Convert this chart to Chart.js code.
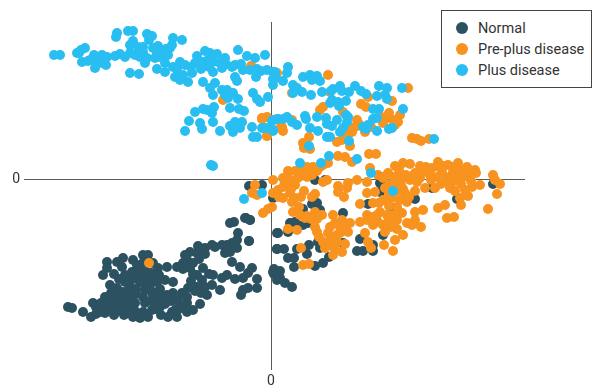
<!DOCTYPE html>
<html>
<head>
<meta charset="utf-8">
<title>Scatter</title>
<script src="https://cdn.jsdelivr.net/npm/chart.js@4"></script>
<style>
  html, body { margin: 0; padding: 0; background: #fff; }
  #wrap { position: relative; width: 592px; height: 388px; overflow: hidden; }
  #legend {
    position: absolute; left: 441px; top: 10px; width: 149px; height: 76px;
    border: 1px solid #444; background: #fff; box-sizing: content-box;
    font-family: Roboto, sans-serif; font-size: 14.5px; color: #333;
  }
  #legend div { position: absolute; left: 36px; line-height: 18px; white-space: nowrap; }
  #legend span { position: absolute; left: -22px; top: 2px; width: 12px; height: 12px; border-radius: 50%; }
</style>
</head>
<body>
<div id="wrap">
  <canvas id="scatterChart" width="592" height="388"></canvas>
  <div id="legend"></div>
</div>
<script>
const seriesNames = ['Normal', 'Pre-plus disease', 'Plus disease'];
const seriesColors = ['#2c5261', '#f7931e', '#29bef1'];

const normalPoints = [
  [-22,-7],[-9,-6],[-26,-39],[-21,-41],[-22,-62],[7,-54],[19,-44],[24,-43],[17,-53],[32,-46],[37,-44],[41,-25],[46,-24],[32,-30],[72,-34],[44,-1],[54,-1],
  [6,-70],[13,-70],[26,-70],[38,-66],[36,-75],[47,-63],[49,-69],[17,-79],[23,-79],[23,-88],[44,-87],[52,-84],[58,-78],[3,-90],[9,-92],[3,-95],[9,-99],[14,-104],[21,-108],
  [89,-60],[86,-72],[92,-72],[102,-66],[102,-72],[64,-59],[72,-64],[97,-25],[109,-13],[121,-29],[144,-20],[186,-20],[222,-5],[2,-19],[49,-31],[112,-56],[161,-9],[141,2],[109,-4],
  [-203,-128],[-199,-129],[-188,-133],[-180,-138],[-178,-124],[-171,-133],[-166,-118],[-161,-131],[-168,-96],[-164,-83],[-164,-89],[-161,-106],[-154,-83],[-148,-79],[-149,-88],
  [-156,-114],[-148,-119],[-147,-136],[-141,-108],[-138,-81],[-139,-93],[-128,-76],[-123,-76],[-131,-88],[-136,-124],[-138,-138],[-131,-139],[-126,-124],[-123,-138],[-124,-99],
  [-126,-111],[-118,-116],[-119,-131],[-113,-89],[-104,-88],[-114,-103],[-110,-136],[-111,-128],[-104,-116],[-106,-101],[-98,-103],[-99,-133],[-94,-138],[-93,-121],[-94,-88],
  [-88,-84],[-81,-73],[-86,-76],[-84,-81],[-81,-89],[-73,-67],[-59,-66],[-66,-69],[-74,-74],[-49,-66],[-39,-64],[-41,-44],[-37,-43],[-25,-39],[-21,-41],[-33,-54],[-34,-61],[-22,-62],
  [-46,-74],[-41,-73],[-34,-69],[-39,-83],[-31,-88],[-68,-89],[-74,-96],[-69,-101],[-74,-108],[-83,-109],[-89,-114],[-64,-116],[-58,-96],[-59,-106],[-51,-111],[-49,-99],[-44,-96],
  [-36,-100],[-28,-99],[-19,-89],[-23,-94],[-14,-100],[-14,-109],[-23,-109],[-28,-111],[-30,-116],[-71,-125],[-78,-131],[-84,-133],[-84,-124],[-163,-121],[-153,-128],[-141,-129],
  [6,-54],[6,-70],[2,-93],[6,-101],[-131,-103],[-121,-106],[-154,-109],[-98,-114],[-141,-118],[-126,-92],[-111,-110],[-166,-125],[-133,-96],[-146,-96],[-113,-122],[-152,-122],
  [-175,-128],[-170,-124],[-160,-122],[-158,-130],[-145,-125],[-150,-132],[-143,-112],[-135,-115],[-128,-118],[-120,-122],[-115,-130],[-106,-125],[-100,-122],[-90,-128],[-95,-130],
  [-157,-95],[-152,-100],[-146,-103],[-138,-100],[-130,-94],[-120,-94],[-118,-84],[-112,-96],[-128,-84],[-134,-86],[-118,-98],[-126,-105],[-112,-112],[-88,-90],[-78,-95],[-80,-102],
  [-66,-108],[-62,-95],[-78,-84],[-72,-80],[-66,-75],[-56,-68],[-44,-66],[-76,-112],[-70,-114],[-84,-118],[-100,-118],[-108,-118],[-120,-112],[-135,-110],[-148,-113],[-160,-114],
  [-153,-119],[-136,-132],[-128,-133],[-114,-124],[-103,-138],[-92,-130],[-175,-135],[-166,-134],[-157,-136],[-143,-133]
];

const prePlusPoints = [
  [-19,112],[6,106],[57,104],[21,86],[59,87],[137,91],[97,82],[121,78],[52,72],[49,69],[90,75],[95,72],[72,67],[-9,61],[-4,62],[21,59],[11,52],[12,48],[-4,43],[38,42],[32,36],[33,31],[39,30],
  [86,59],[84,52],[81,47],[76,44],[71,39],[66,37],[79,33],[94,47],[116,61],[122,59],[129,64],[127,57],[124,54],[109,63],[141,41],[146,40],[150,38],[158,40],[67,23],[74,22],[81,17],[98,25],[105,25],
  [57,16],[49,12],[42,12],[17,8],[12,1],[27,7],[32,6],[37,7],[2,-1],[19,-1],[27,1],[36,2],[41,4],[56,-1],[52,-3],[99,11],[124,13],[132,16],[139,15],[149,13],[161,11],[167,17],[177,14],[187,16],
  [196,12],[204,9],[191,9],[182,7],[171,7],[156,7],[144,6],[129,4],[117,6],[107,4],[112,1],[122,2],[132,1],[139,-1],[149,1],[159,4],[166,2],[176,1],[186,2],[192,2],[222,4],[224,-1],[229,-5],[226,-15],[199,7],
  [-16,-6],[-19,-14],[-14,-16],[2,-14],[7,-11],[12,-8],[17,1],[19,-14],[24,-6],[12,-19],[21,-23],[24,-19],[-8,-34],[-3,-30],[1,-28],[44,-15],[41,-18],[67,-7],[67,-13],[73,-18],[77,-4],[76,-9],[86,-1],
  [96,-3],[96,-14],[104,-13],[112,2],[114,-9],[89,-25],[102,-24],[112,-21],[121,-19],[129,-21],[136,-23],[144,-12],[146,-3],[154,-9],[164,-9],[174,-3],[179,-9],[189,-19],[194,-11],[201,-8],[209,-6],[205,6],
  [217,-30],[167,-29],[174,-26],[176,-39],[183,-38],[152,-31],[144,-33],[131,-34],[126,-41],[144,-41],[136,-44],[150,-48],[141,-46],[126,-50],[117,-43],[109,-33],[102,-38],[96,-41],[89,-43],[107,-43],
  [114,-53],[94,-54],[132,-56],[124,-61],[97,-63],[100,-69],[113,-66],[122,-72],[62,-36],[71,-41],[79,-44],[59,-48],[69,-48],[77,-53],[57,-54],[69,-54],[44,-33],[51,-36],[29,-36],[22,-33],[34,-39],
  [44,-48],[46,-53],[17,-50],[26,-51],[52,-63],[57,-63],[66,-63],[74,-65],[54,-69],[62,-76],[71,-73],[30,-69],[32,-86],[38,-85],[-122,-84],[-20,113],[-48,79],[-9,60],[-4,43],[9,51],
  [118,-14],[126,-12],[134,-14],[108,-24],[118,-27],[126,-28],[116,-36],[122,-36],[106,-36],[96,-36],[112,-46],[120,-48],[102,-46],[132,-10],[138,-18],[118,-6],[124,-4],[130,-6],[135,4],[128,9],
  [150,6],[155,12],[160,-1],[170,-5],[168,12],[172,13],[182,12],[183,-2],[190,-5],[195,4],[184,-12],[197,-17],[190,-26],[200,-2],[180,3],[60,-58],[64,-44],[66,-56],[74,-47],[48,-58],[60,-66],[64,-70],
  [30,-18],[28,-28],[33,-12],[20,-10],[14,-3],[8,-18],[24,8],[36,12],[30,11],[46,8],[52,14],[36,-37],[46,-40],[40,-40],[78,52],[88,55],[100,52],[112,56],[118,66]
];

const plusPoints = [
  [-217,124],[-211,124],[-194,126],[-190,129],[-186,131],[-192,126],[-189,117],[-181,119],[-177,124],[-183,118],[-176,111],[-174,117],[-169,124],[-169,116],[-165,114],[-164,122],[-173,120],[-156,123],
  [-151,125],[-146,122],[-141,126],[-136,124],[-131,122],[-128,127],[-124,121],[-141,106],[-132,105],[-154,146],[-155,142],[-143,148],[-138,148],[-141,134],[-138,138],[-133,132],[-124,145],[-119,143],
  [-122,139],[-113,133],[-109,129],[-118,131],[-114,126],[-103,124],[-101,131],[-98,141],[-89,139],[-99,134],[-116,121],[-111,122],[-106,116],[-114,110],[-106,107],[-98,112],[-91,117],[-86,114],[-94,110],
  [-79,106],[-96,102],[-91,99],[-83,97],[-88,104],[-74,123],[-76,116],[-68,117],[-66,128],[-61,126],[-54,125],[-63,119],[-58,117],[-46,121],[-51,116],[-58,107],[-49,111],[-39,112],[-33,129],[-24,123],
  [-16,121],[-6,124],[-36,114],[-28,109],[-21,109],[-14,110],[-36,102],[-34,98],[-15,102],[-4,109],[2,107],[5,101],[2,94],[-68,97],[-56,96],[-61,91],[-58,84],[-49,89],[-44,89],[-46,84],[-38,86],[-43,81],
  [-33,80],[-18,86],[-14,80],[-11,77],[-3,82],[-41,71],[-32,70],[-27,68],[-57,72],[-76,67],[-68,70],[-64,69],[-82,58],[-86,48],[-71,56],[-69,50],[-59,66],[-58,57],[-51,48],[-41,53],[-36,57],[-29,57],
  [-38,47],[-31,51],[-19,52],[-9,51],[-4,51],[2,48],[-18,42],[-14,42],[2,59],[6,60],[-60,14],[-58,13],
  [17,112],[16,106],[4,107],[32,102],[39,104],[46,103],[49,98],[41,99],[12,98],[22,94],[26,91],[22,86],[31,87],[40,84],[51,87],[62,90],[69,93],[71,88],[78,87],[84,93],[95,85],[108,93],[116,91],[131,91],
  [106,83],[114,84],[116,80],[75,78],[67,77],[61,79],[59,76],[68,73],[132,70],[102,70],[108,70],[106,61],[102,60],[97,54],[92,52],[95,50],[106,48],[121,51],[118,50],[75,64],[77,62],[76,57],[66,59],[72,51],
  [69,47],[55,61],[56,55],[61,53],[46,62],[34,63],[35,60],[39,51],[47,48],[16,62],[26,54],[21,57],[12,60],[7,60],[1,58],[2,49],[-7,51],[56,42],[59,42],[78,38],[163,40],[38,33],[29,16],[50,16],[58,23],[86,20],
  [100,6],[122,-12],[-9,-14],[-27,-20],
  [-128,132],[-126,116],[-105,130],[-80,112],[-70,110],[-62,112],[-45,115],[-30,115],[-10,108],[2,100],[60,88],[90,88]
];

const tickLabels = ['0'];
const allPoints = [normalPoints, prePlusPoints, plusPoints];

function onlyZeroTick(scale) {
  scale.ticks = [{ value: 0 }];
}

function initChart() {
  const ctx = document.getElementById('scatterChart');

  new Chart(ctx, {
    type: 'scatter',
    data: {
      datasets: allPoints.map((points, i) => ({
        label: seriesNames[i],
        data: points.map(p => ({ x: p[0], y: p[1] })),
        backgroundColor: seriesColors[i],
        borderWidth: 0,
        pointRadius: 5,
        // last series on top
        order: allPoints.length - i,
        clip: false
      }))
    },
    options: {
      responsive: false,
      animation: false,
      layout: { padding: { top: 22, right: 67, left: 0, bottom: 0 } },
      plugins: { legend: { display: false }, tooltip: { enabled: false } },
      scales: {
        x: {
          type: 'linear',
          min: -247,
          max: 254,
          afterBuildTicks: onlyZeroTick,
          afterFit: scale => { scale.height = 18; },
          border: { display: false },
          grid: { color: '#5a5a5a', lineWidth: 1, drawTicks: false },
          ticks: { padding: 3, color: '#333', maxRotation: 0, font: { family: 'Roboto', size: 14 }, callback: () => tickLabels[0] }
        },
        y: {
          type: 'linear',
          min: -191,
          max: 157,
          afterBuildTicks: onlyZeroTick,
          afterFit: scale => { scale.width = 24; },
          border: { display: false },
          grid: { color: '#5a5a5a', lineWidth: 1, drawTicks: false },
          ticks: { padding: 4, color: '#333', font: { family: 'Roboto', size: 14 }, callback: () => tickLabels[0] }
        }
      }
    }
  });

  // leyenda aparte, fuera del canvas
  const legend = document.getElementById('legend');
  seriesNames.forEach((name, i) => {
    const item = document.createElement('div');
    item.style.top = (9 + i * 21) + 'px';
    item.textContent = name;
    const dot = document.createElement('span');
    dot.style.backgroundColor = seriesColors[i];
    item.appendChild(dot);
    legend.appendChild(item);
  });
}

initChart();
</script>
</body>
</html>
